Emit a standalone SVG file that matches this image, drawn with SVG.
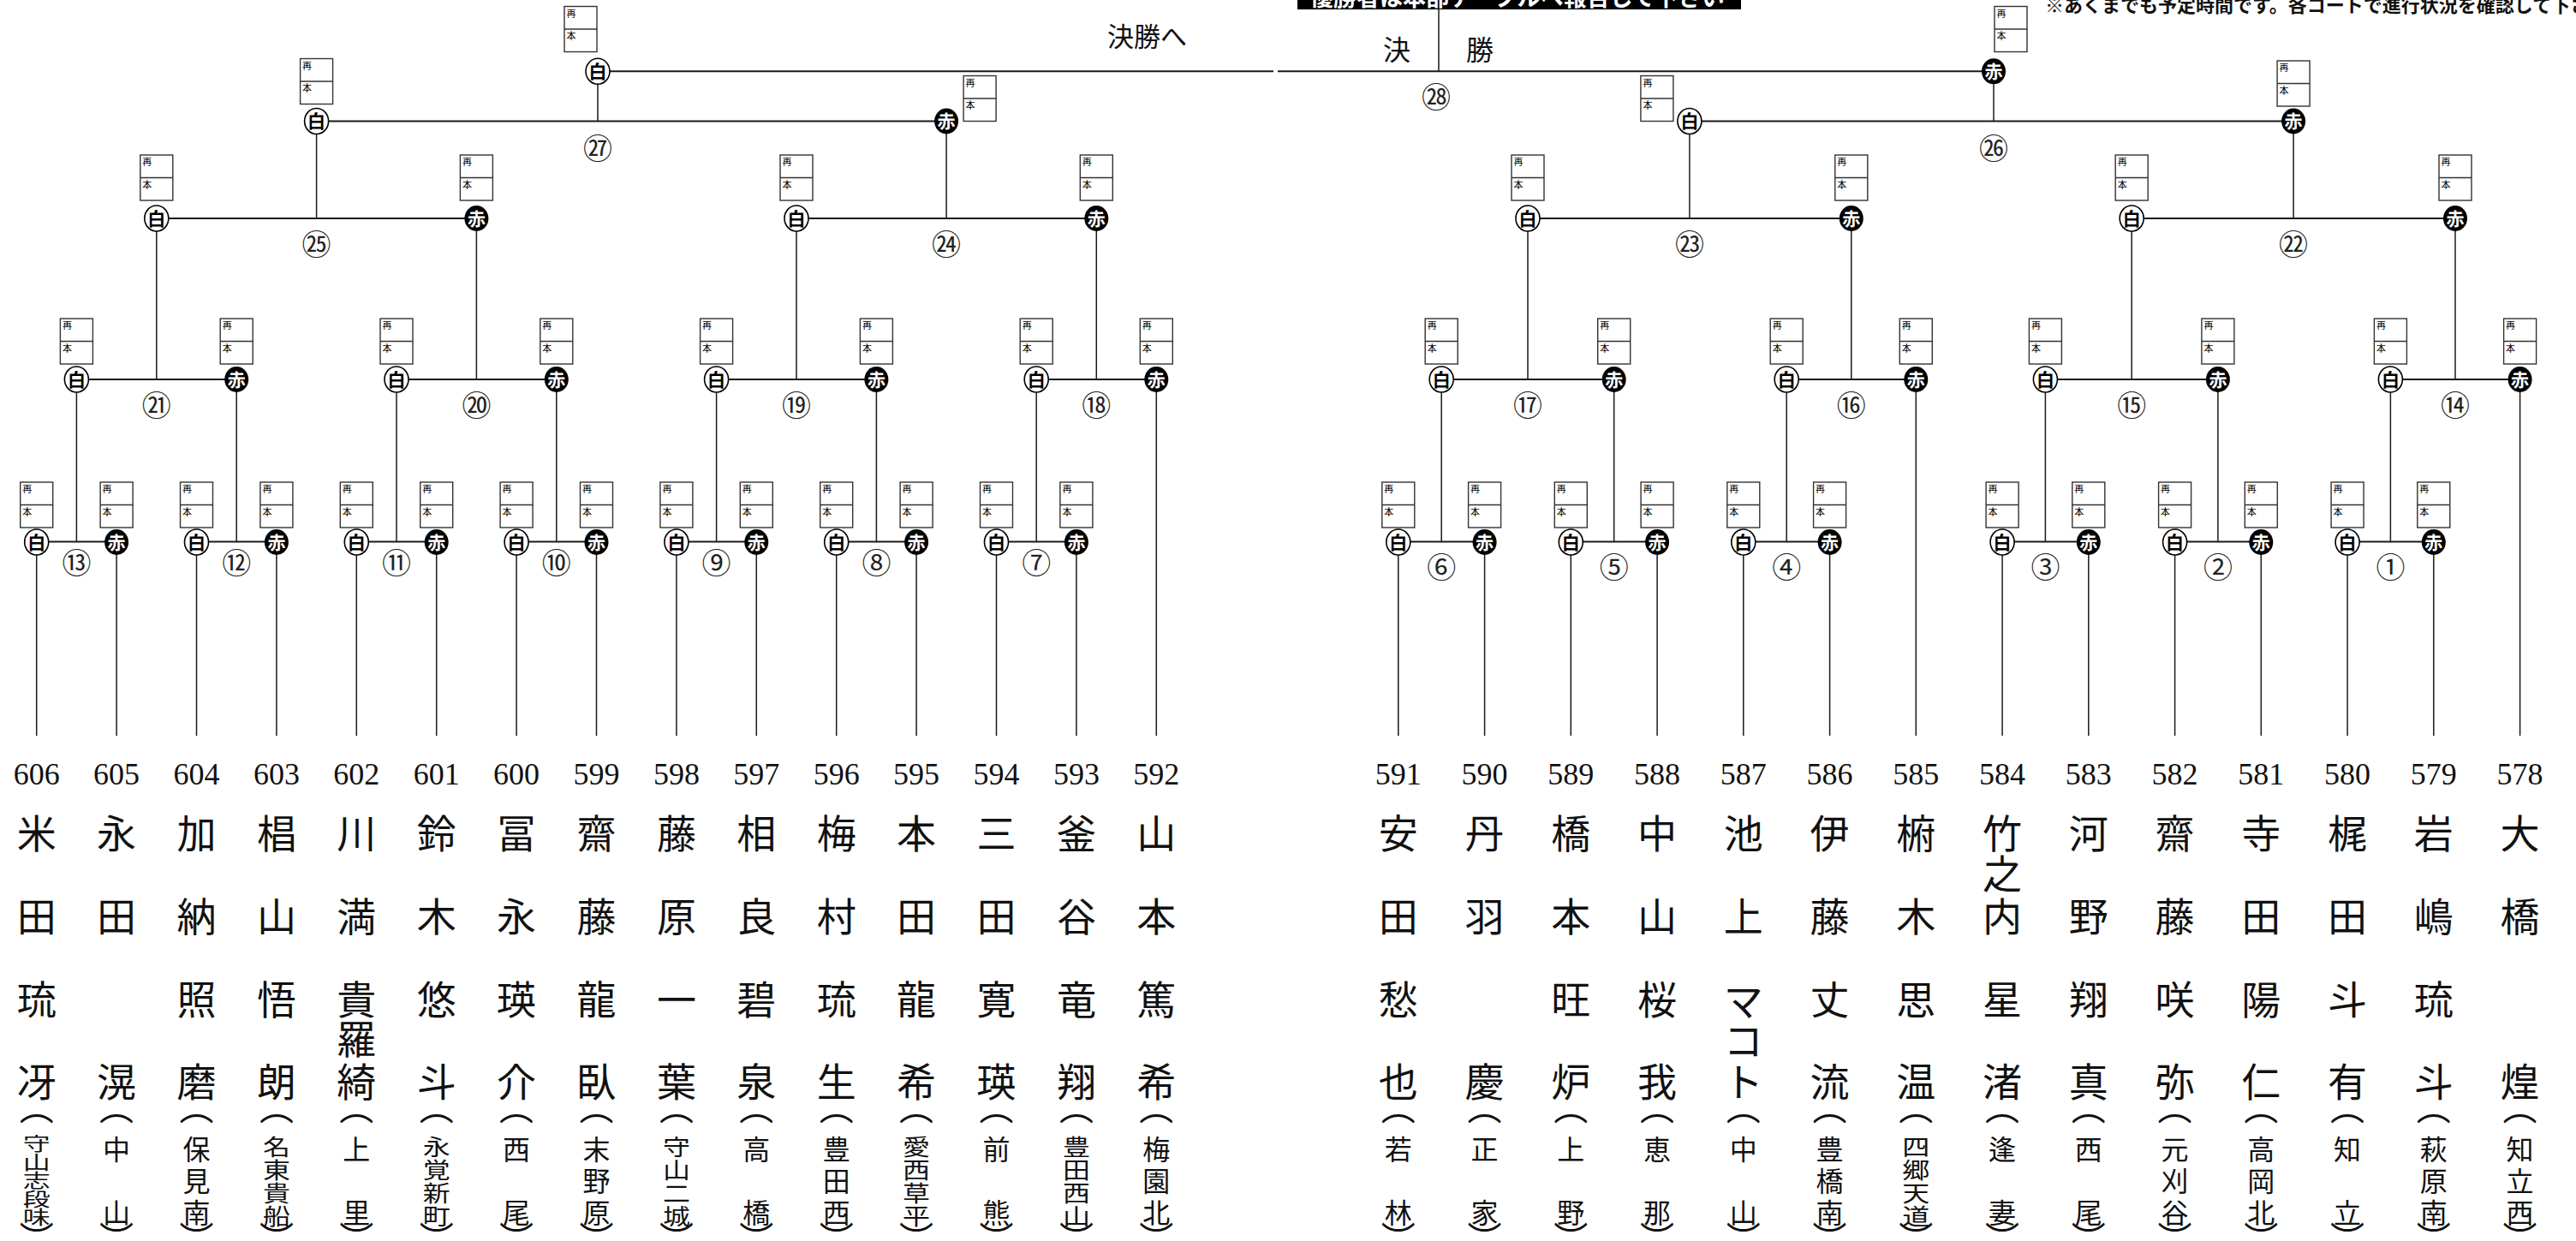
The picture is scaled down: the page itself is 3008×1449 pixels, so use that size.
<svg xmlns="http://www.w3.org/2000/svg" xmlns:xlink="http://www.w3.org/1999/xlink" width="3008" height="1449" viewBox="0 0 3008 1449">
<style>
.h{stroke:#1a1a1a;stroke-width:2;fill:none}
.v{stroke:#1a1a1a;stroke-width:1.5;fill:none}
.bx{fill:#fff;stroke:#333;stroke-width:1.4}
.bxl{stroke:#333;stroke-width:1.4}
.sm{font-family:"Noto Sans CJK JP",sans-serif;font-size:11px;fill:#000}
.mk{font-family:"Noto Sans CJK JP",sans-serif;font-size:21px;font-weight:bold;text-anchor:middle}
.cn{font-family:"Noto Sans CJK JP",sans-serif;font-size:34px;text-anchor:middle;fill:#222}
.num{font-family:"Liberation Serif",serif;font-size:36px;text-anchor:middle;fill:#111}
.nm{font-family:"Noto Sans CJK JP",sans-serif;font-size:46px;text-anchor:middle;fill:#111}
.sc{font-family:"Noto Sans CJK JP",sans-serif;font-size:32px;text-anchor:middle;fill:#111}
.pr{font-family:"Noto Sans CJK JP",sans-serif;font-size:40px;text-anchor:middle;fill:#111}
.tt{font-family:"Noto Sans CJK JP",sans-serif;fill:#111}
</style>
<defs>
<g id="bx"><rect width="38" height="53" class="bx"/><line x1="0" y1="26.5" x2="38" y2="26.5" class="bxl"/><text x="2.5" y="12" class="sm">再</text><text x="2.5" y="38.5" class="sm">本</text></g>
<g id="w"><ellipse rx="14" ry="15" fill="#fff" stroke="#000" stroke-width="1.6"/><text y="7.5" class="mk" fill="#000">白</text></g>
<g id="r"><ellipse rx="14" ry="15" fill="#000"/><text y="7.5" class="mk" fill="#fff">赤</text></g>
</defs>
<rect width="3008" height="1449" fill="#fff"/>

<g id="header">
<rect x="1515" y="0" width="518" height="11" fill="#000"/>
<text class="tt" x="1530" y="7" font-size="27" font-weight="bold" style="fill:#fff">優勝者は本部テーブルへ報告して下さい</text>
<text class="tt" x="2388" y="13.5" font-size="22" font-weight="bold">※あくまでも予定時間です。各コートで進行状況を確認して下さい</text>
<text class="tt" x="1293" y="54" font-size="31">決勝へ</text>
<text class="tt" x="1631" y="70" font-size="32" text-anchor="middle">決</text>
<text class="tt" x="1728" y="70" font-size="32" text-anchor="middle">勝</text>
</g>

<g id="connectors">
<path class="h" d="M42.7 632.5H136.1M229.5 632.5H322.9M416.3 632.5H509.7M603.1 632.5H696.5M789.9 632.5H883.3M976.7 632.5H1070.1M1163.5 632.5H1256.9M1632.8 632.5H1733.6M1834.3 632.5H1935.1M2035.8 632.5H2136.6M2338.1 632.5H2438.8M2539.6 632.5H2640.3M2741.1 632.5H2841.8
M89.4 443H276.2M463 443H649.8M836.6 443H1023.4M1210.2 443H1350.3M1683.2 443H1884.7M2086.2 443H2237.3M2388.4 443H2589.9M2791.4 443H2942.6
M182.8 255H556.4M930 255H1280.3M1784 255H2161.8M2489.2 255H2867
M369.6 141.5H1105.1M1972.9 141.5H2678.1
M698 83.3H1487M1492 83.3H2328"/>
<path class="v" d="M42.7 648V859M136.1 648V859M229.5 648V859M322.9 648V859M416.3 648V859M509.7 648V859M603.1 648V859M696.5 648V859M789.9 648V859M883.3 648V859M976.7 648V859M1070.1 648V859M1163.5 648V859M1256.9 648V859
M1632.8 648V859M1733.6 648V859M1834.3 648V859M1935.1 648V859M2035.8 648V859M2136.6 648V859M2338.1 648V859M2438.8 648V859M2539.6 648V859M2640.3 648V859M2741.1 648V859M2841.8 648V859
M1350.3 458V859M2237.3 458V859M2942.6 458V859
M89.4 443V632.5M276.2 443V632.5M463 443V632.5M649.8 443V632.5M836.6 443V632.5M1023.4 443V632.5M1210.2 443V632.5M1683.2 443V632.5M1884.7 443V632.5M2086.2 443V632.5M2388.4 443V632.5M2589.9 443V632.5M2791.4 443V632.5
M182.8 255V443M556.4 255V443M930 255V443M1280.3 255V443M1784 255V443M2161.8 255V443M2489.2 255V443M2867 255V443
M369.6 141.5V255M1105.1 141.5V255M1972.9 141.5V255M2678.1 141.5V255
M698 83.3V141.5M2328 83.3V141.5
M1680 10V83.3"/>
</g>

<g id="m13"><use href="#bx" x="23.7" y="563"/><use href="#bx" x="117.1" y="563"/><use href="#w" x="42.7" y="633"/><use href="#r" x="136.1" y="633"/><text class="cn" x="89.4" y="669.5">⑬</text></g>
<g id="m12"><use href="#bx" x="210.5" y="563"/><use href="#bx" x="303.9" y="563"/><use href="#w" x="229.5" y="633"/><use href="#r" x="322.9" y="633"/><text class="cn" x="276.2" y="669.5">⑫</text></g>
<g id="m11"><use href="#bx" x="397.3" y="563"/><use href="#bx" x="490.7" y="563"/><use href="#w" x="416.3" y="633"/><use href="#r" x="509.7" y="633"/><text class="cn" x="463" y="669.5">⑪</text></g>
<g id="m10"><use href="#bx" x="584.1" y="563"/><use href="#bx" x="677.5" y="563"/><use href="#w" x="603.1" y="633"/><use href="#r" x="696.5" y="633"/><text class="cn" x="649.8" y="669.5">⑩</text></g>
<g id="m9"><use href="#bx" x="770.9" y="563"/><use href="#bx" x="864.3" y="563"/><use href="#w" x="789.9" y="633"/><use href="#r" x="883.3" y="633"/><text class="cn" x="836.6" y="669.5">⑨</text></g>
<g id="m8"><use href="#bx" x="957.7" y="563"/><use href="#bx" x="1051.1" y="563"/><use href="#w" x="976.7" y="633"/><use href="#r" x="1070.1" y="633"/><text class="cn" x="1023.4" y="669.5">⑧</text></g>
<g id="m7"><use href="#bx" x="1144.5" y="563"/><use href="#bx" x="1237.9" y="563"/><use href="#w" x="1163.5" y="633"/><use href="#r" x="1256.9" y="633"/><text class="cn" x="1210.2" y="669.5">⑦</text></g>
<g id="m6"><use href="#bx" x="1613.8" y="563"/><use href="#bx" x="1714.6" y="563"/><use href="#w" x="1632.8" y="633"/><use href="#r" x="1733.6" y="633"/><text class="cn" x="1683.2" y="674.5">⑥</text></g>
<g id="m5"><use href="#bx" x="1815.3" y="563"/><use href="#bx" x="1916.1" y="563"/><use href="#w" x="1834.3" y="633"/><use href="#r" x="1935.1" y="633"/><text class="cn" x="1884.7" y="674.5">⑤</text></g>
<g id="m4"><use href="#bx" x="2016.8" y="563"/><use href="#bx" x="2117.6" y="563"/><use href="#w" x="2035.8" y="633"/><use href="#r" x="2136.6" y="633"/><text class="cn" x="2086.2" y="674.5">④</text></g>
<g id="m3"><use href="#bx" x="2319.1" y="563"/><use href="#bx" x="2419.8" y="563"/><use href="#w" x="2338.1" y="633"/><use href="#r" x="2438.8" y="633"/><text class="cn" x="2388.4" y="674.5">③</text></g>
<g id="m2"><use href="#bx" x="2520.6" y="563"/><use href="#bx" x="2621.3" y="563"/><use href="#w" x="2539.6" y="633"/><use href="#r" x="2640.3" y="633"/><text class="cn" x="2589.9" y="674.5">②</text></g>
<g id="m1"><use href="#bx" x="2722.1" y="563"/><use href="#bx" x="2822.8" y="563"/><use href="#w" x="2741.1" y="633"/><use href="#r" x="2841.8" y="633"/><text class="cn" x="2791.4" y="674.5">①</text></g>

<g id="m21"><use href="#bx" x="70.4" y="372"/><use href="#bx" x="257.2" y="372"/><use href="#w" x="89.4" y="443"/><use href="#r" x="276.2" y="443"/><text class="cn" x="182.8" y="485.5">㉑</text></g>
<g id="m20"><use href="#bx" x="444" y="372"/><use href="#bx" x="630.8" y="372"/><use href="#w" x="463" y="443"/><use href="#r" x="649.8" y="443"/><text class="cn" x="556.4" y="485.5">⑳</text></g>
<g id="m19"><use href="#bx" x="817.6" y="372"/><use href="#bx" x="1004.4" y="372"/><use href="#w" x="836.6" y="443"/><use href="#r" x="1023.4" y="443"/><text class="cn" x="930" y="485.5">⑲</text></g>
<g id="m18"><use href="#bx" x="1191.2" y="372"/><use href="#bx" x="1331.3" y="372"/><use href="#w" x="1210.2" y="443"/><use href="#r" x="1350.3" y="443"/><text class="cn" x="1280.3" y="485.5">⑱</text></g>
<g id="m17"><use href="#bx" x="1664.2" y="372"/><use href="#bx" x="1865.7" y="372"/><use href="#w" x="1683.2" y="443"/><use href="#r" x="1884.7" y="443"/><text class="cn" x="1784" y="485.5">⑰</text></g>
<g id="m16"><use href="#bx" x="2067.2" y="372"/><use href="#bx" x="2218.3" y="372"/><use href="#w" x="2086.2" y="443"/><use href="#r" x="2237.3" y="443"/><text class="cn" x="2161.8" y="485.5">⑯</text></g>
<g id="m15"><use href="#bx" x="2369.4" y="372"/><use href="#bx" x="2570.9" y="372"/><use href="#w" x="2388.4" y="443"/><use href="#r" x="2589.9" y="443"/><text class="cn" x="2489.2" y="485.5">⑮</text></g>
<g id="m14"><use href="#bx" x="2772.4" y="372"/><use href="#bx" x="2923.6" y="372"/><use href="#w" x="2791.4" y="443"/><use href="#r" x="2942.6" y="443"/><text class="cn" x="2867" y="485.5">⑭</text></g>

<g id="m25"><use href="#bx" x="163.8" y="181"/><use href="#bx" x="537.4" y="181"/><use href="#w" x="182.8" y="255"/><use href="#r" x="556.4" y="255"/><text class="cn" x="369.6" y="297.5">㉕</text></g>
<g id="m24"><use href="#bx" x="911" y="181"/><use href="#bx" x="1261.3" y="181"/><use href="#w" x="930" y="255"/><use href="#r" x="1280.3" y="255"/><text class="cn" x="1105.1" y="297.5">㉔</text></g>
<g id="m23"><use href="#bx" x="1765" y="181"/><use href="#bx" x="2142.8" y="181"/><use href="#w" x="1784" y="255"/><use href="#r" x="2161.8" y="255"/><text class="cn" x="1972.9" y="297.5">㉓</text></g>
<g id="m22"><use href="#bx" x="2470.2" y="181"/><use href="#bx" x="2848" y="181"/><use href="#w" x="2489.2" y="255"/><use href="#r" x="2867" y="255"/><text class="cn" x="2678.1" y="297.5">㉒</text></g>

<g id="m27"><use href="#bx" x="350.6" y="68.5"/><use href="#bx" x="1125.1" y="88.5"/><use href="#w" x="369.6" y="141.5"/><use href="#r" x="1105.1" y="141.5"/><text class="cn" x="698" y="185.5">㉗</text></g>
<g id="m26"><use href="#bx" x="1915.9" y="88.5"/><use href="#bx" x="2659.1" y="71"/><use href="#w" x="1972.9" y="141.5"/><use href="#r" x="2678.1" y="141.5"/><text class="cn" x="2328" y="185.5">㉖</text></g>
<g id="m28"><use href="#bx" x="659" y="7.5"/><use href="#bx" x="2329" y="7.5"/><use href="#w" x="698" y="83.3"/><use href="#r" x="2328" y="83.3"/><text class="cn" x="1677" y="125.5">㉘</text></g>

<g id="e606"><text class="num" x="42.7" y="916">606</text><text class="nm" x="42.7" y="989.5">米</text><text class="nm" x="42.7" y="1086.5">田</text><text class="nm" x="42.7" y="1183.5">琉</text><text class="nm" x="42.7" y="1279.5">冴</text><text class="pr" x="42.7" y="1308">︵</text><text class="sc" transform="translate(42.7,1343.3) scale(1,0.66)">守</text><text class="sc" transform="translate(42.7,1364.8) scale(1,0.66)">山</text><text class="sc" transform="translate(42.7,1386.3) scale(1,0.66)">志</text><text class="sc" transform="translate(42.7,1407.8) scale(1,0.66)">段</text><text class="sc" transform="translate(42.7,1429.3) scale(1,0.66)">味</text><text class="pr" x="42.7" y="1461">︶</text></g>
<g id="e605"><text class="num" x="136.1" y="916">605</text><text class="nm" x="136.1" y="989.5">永</text><text class="nm" x="136.1" y="1086.5">田</text><text class="nm" x="136.1" y="1279.5">滉</text><text class="pr" x="136.1" y="1308">︵</text><text class="sc" x="136.1" y="1354">中</text><text class="sc" x="136.1" y="1428">山</text><text class="pr" x="136.1" y="1461">︶</text></g>
<g id="e604"><text class="num" x="229.5" y="916">604</text><text class="nm" x="229.5" y="989.5">加</text><text class="nm" x="229.5" y="1086.5">納</text><text class="nm" x="229.5" y="1183.5">照</text><text class="nm" x="229.5" y="1279.5">磨</text><text class="pr" x="229.5" y="1308">︵</text><text class="sc" x="229.5" y="1354">保</text><text class="sc" x="229.5" y="1391">見</text><text class="sc" x="229.5" y="1428">南</text><text class="pr" x="229.5" y="1461">︶</text></g>
<g id="e603"><text class="num" x="322.9" y="916">603</text><text class="nm" x="322.9" y="989.5">椙</text><text class="nm" x="322.9" y="1086.5">山</text><text class="nm" x="322.9" y="1183.5">悟</text><text class="nm" x="322.9" y="1279.5">朗</text><text class="pr" x="322.9" y="1308">︵</text><text class="sc" transform="translate(322.9,1349.3) scale(1,0.83)">名</text><text class="sc" transform="translate(322.9,1376.1) scale(1,0.83)">東</text><text class="sc" transform="translate(322.9,1402.9) scale(1,0.83)">貴</text><text class="sc" transform="translate(322.9,1429.7) scale(1,0.83)">船</text><text class="pr" x="322.9" y="1461">︶</text></g>
<g id="e602"><text class="num" x="416.3" y="916">602</text><text class="nm" x="416.3" y="989.5">川</text><text class="nm" x="416.3" y="1086.5">満</text><text class="nm" x="416.3" y="1183.5">貴</text><text class="nm" x="416.3" y="1229.5">羅</text><text class="nm" x="416.3" y="1279.5">綺</text><text class="pr" x="416.3" y="1308">︵</text><text class="sc" x="416.3" y="1354">上</text><text class="sc" x="416.3" y="1428">里</text><text class="pr" x="416.3" y="1461">︶</text></g>
<g id="e601"><text class="num" x="509.7" y="916">601</text><text class="nm" x="509.7" y="989.5">鈴</text><text class="nm" x="509.7" y="1086.5">木</text><text class="nm" x="509.7" y="1183.5">悠</text><text class="nm" x="509.7" y="1279.5">斗</text><text class="pr" x="509.7" y="1308">︵</text><text class="sc" transform="translate(509.7,1349.3) scale(1,0.83)">永</text><text class="sc" transform="translate(509.7,1376.1) scale(1,0.83)">覚</text><text class="sc" transform="translate(509.7,1402.9) scale(1,0.83)">新</text><text class="sc" transform="translate(509.7,1429.7) scale(1,0.83)">町</text><text class="pr" x="509.7" y="1461">︶</text></g>
<g id="e600"><text class="num" x="603.1" y="916">600</text><text class="nm" x="603.1" y="989.5">冨</text><text class="nm" x="603.1" y="1086.5">永</text><text class="nm" x="603.1" y="1183.5">瑛</text><text class="nm" x="603.1" y="1279.5">介</text><text class="pr" x="603.1" y="1308">︵</text><text class="sc" x="603.1" y="1354">西</text><text class="sc" x="603.1" y="1428">尾</text><text class="pr" x="603.1" y="1461">︶</text></g>
<g id="e599"><text class="num" x="696.5" y="916">599</text><text class="nm" x="696.5" y="989.5">齋</text><text class="nm" x="696.5" y="1086.5">藤</text><text class="nm" x="696.5" y="1183.5">龍</text><text class="nm" x="696.5" y="1279.5">臥</text><text class="pr" x="696.5" y="1308">︵</text><text class="sc" x="696.5" y="1354">末</text><text class="sc" x="696.5" y="1391">野</text><text class="sc" x="696.5" y="1428">原</text><text class="pr" x="696.5" y="1461">︶</text></g>
<g id="e598"><text class="num" x="789.9" y="916">598</text><text class="nm" x="789.9" y="989.5">藤</text><text class="nm" x="789.9" y="1086.5">原</text><text class="nm" x="789.9" y="1183.5">一</text><text class="nm" x="789.9" y="1279.5">葉</text><text class="pr" x="789.9" y="1308">︵</text><text class="sc" transform="translate(789.9,1349.3) scale(1,0.83)">守</text><text class="sc" transform="translate(789.9,1376.1) scale(1,0.83)">山</text><text class="sc" transform="translate(789.9,1402.9) scale(1,0.83)">二</text><text class="sc" transform="translate(789.9,1429.7) scale(1,0.83)">城</text><text class="pr" x="789.9" y="1461">︶</text></g>
<g id="e597"><text class="num" x="883.3" y="916">597</text><text class="nm" x="883.3" y="989.5">相</text><text class="nm" x="883.3" y="1086.5">良</text><text class="nm" x="883.3" y="1183.5">碧</text><text class="nm" x="883.3" y="1279.5">泉</text><text class="pr" x="883.3" y="1308">︵</text><text class="sc" x="883.3" y="1354">高</text><text class="sc" x="883.3" y="1428">橋</text><text class="pr" x="883.3" y="1461">︶</text></g>
<g id="e596"><text class="num" x="976.7" y="916">596</text><text class="nm" x="976.7" y="989.5">梅</text><text class="nm" x="976.7" y="1086.5">村</text><text class="nm" x="976.7" y="1183.5">琉</text><text class="nm" x="976.7" y="1279.5">生</text><text class="pr" x="976.7" y="1308">︵</text><text class="sc" x="976.7" y="1354">豊</text><text class="sc" x="976.7" y="1391">田</text><text class="sc" x="976.7" y="1428">西</text><text class="pr" x="976.7" y="1461">︶</text></g>
<g id="e595"><text class="num" x="1070.1" y="916">595</text><text class="nm" x="1070.1" y="989.5">本</text><text class="nm" x="1070.1" y="1086.5">田</text><text class="nm" x="1070.1" y="1183.5">龍</text><text class="nm" x="1070.1" y="1279.5">希</text><text class="pr" x="1070.1" y="1308">︵</text><text class="sc" transform="translate(1070.1,1349.3) scale(1,0.83)">愛</text><text class="sc" transform="translate(1070.1,1376.1) scale(1,0.83)">西</text><text class="sc" transform="translate(1070.1,1402.9) scale(1,0.83)">草</text><text class="sc" transform="translate(1070.1,1429.7) scale(1,0.83)">平</text><text class="pr" x="1070.1" y="1461">︶</text></g>
<g id="e594"><text class="num" x="1163.5" y="916">594</text><text class="nm" x="1163.5" y="989.5">三</text><text class="nm" x="1163.5" y="1086.5">田</text><text class="nm" x="1163.5" y="1183.5">寛</text><text class="nm" x="1163.5" y="1279.5">瑛</text><text class="pr" x="1163.5" y="1308">︵</text><text class="sc" x="1163.5" y="1354">前</text><text class="sc" x="1163.5" y="1428">熊</text><text class="pr" x="1163.5" y="1461">︶</text></g>
<g id="e593"><text class="num" x="1256.9" y="916">593</text><text class="nm" x="1256.9" y="989.5">釜</text><text class="nm" x="1256.9" y="1086.5">谷</text><text class="nm" x="1256.9" y="1183.5">竜</text><text class="nm" x="1256.9" y="1279.5">翔</text><text class="pr" x="1256.9" y="1308">︵</text><text class="sc" transform="translate(1256.9,1349.3) scale(1,0.83)">豊</text><text class="sc" transform="translate(1256.9,1376.1) scale(1,0.83)">田</text><text class="sc" transform="translate(1256.9,1402.9) scale(1,0.83)">西</text><text class="sc" transform="translate(1256.9,1429.7) scale(1,0.83)">山</text><text class="pr" x="1256.9" y="1461">︶</text></g>
<g id="e592"><text class="num" x="1350.3" y="916">592</text><text class="nm" x="1350.3" y="989.5">山</text><text class="nm" x="1350.3" y="1086.5">本</text><text class="nm" x="1350.3" y="1183.5">篤</text><text class="nm" x="1350.3" y="1279.5">希</text><text class="pr" x="1350.3" y="1308">︵</text><text class="sc" x="1350.3" y="1354">梅</text><text class="sc" x="1350.3" y="1391">園</text><text class="sc" x="1350.3" y="1428">北</text><text class="pr" x="1350.3" y="1461">︶</text></g>

<g id="e591"><text class="num" x="1632.8" y="916">591</text><text class="nm" x="1632.8" y="989.5">安</text><text class="nm" x="1632.8" y="1086.5">田</text><text class="nm" x="1632.8" y="1183.5">愁</text><text class="nm" x="1632.8" y="1279.5">也</text><text class="pr" x="1632.8" y="1308">︵</text><text class="sc" x="1632.8" y="1354">若</text><text class="sc" x="1632.8" y="1428">林</text><text class="pr" x="1632.8" y="1461">︶</text></g>
<g id="e590"><text class="num" x="1733.6" y="916">590</text><text class="nm" x="1733.6" y="989.5">丹</text><text class="nm" x="1733.6" y="1086.5">羽</text><text class="nm" x="1733.6" y="1279.5">慶</text><text class="pr" x="1733.6" y="1308">︵</text><text class="sc" x="1733.6" y="1354">正</text><text class="sc" x="1733.6" y="1428">家</text><text class="pr" x="1733.6" y="1461">︶</text></g>
<g id="e589"><text class="num" x="1834.3" y="916">589</text><text class="nm" x="1834.3" y="989.5">橋</text><text class="nm" x="1834.3" y="1086.5">本</text><text class="nm" x="1834.3" y="1183.5">旺</text><text class="nm" x="1834.3" y="1279.5">炉</text><text class="pr" x="1834.3" y="1308">︵</text><text class="sc" x="1834.3" y="1354">上</text><text class="sc" x="1834.3" y="1428">野</text><text class="pr" x="1834.3" y="1461">︶</text></g>
<g id="e588"><text class="num" x="1935.1" y="916">588</text><text class="nm" x="1935.1" y="989.5">中</text><text class="nm" x="1935.1" y="1086.5">山</text><text class="nm" x="1935.1" y="1183.5">桜</text><text class="nm" x="1935.1" y="1279.5">我</text><text class="pr" x="1935.1" y="1308">︵</text><text class="sc" x="1935.1" y="1354">恵</text><text class="sc" x="1935.1" y="1428">那</text><text class="pr" x="1935.1" y="1461">︶</text></g>
<g id="e587"><text class="num" x="2035.8" y="916">587</text><text class="nm" x="2035.8" y="989.5">池</text><text class="nm" x="2035.8" y="1086.5">上</text><text class="nm" x="2035.8" y="1185.5">マ</text><text class="nm" x="2035.8" y="1231.5">コ</text><text class="nm" x="2035.8" y="1279.5">ト</text><text class="pr" x="2035.8" y="1308">︵</text><text class="sc" x="2035.8" y="1354">中</text><text class="sc" x="2035.8" y="1428">山</text><text class="pr" x="2035.8" y="1461">︶</text></g>
<g id="e586"><text class="num" x="2136.6" y="916">586</text><text class="nm" x="2136.6" y="989.5">伊</text><text class="nm" x="2136.6" y="1086.5">藤</text><text class="nm" x="2136.6" y="1183.5">丈</text><text class="nm" x="2136.6" y="1279.5">流</text><text class="pr" x="2136.6" y="1308">︵</text><text class="sc" x="2136.6" y="1354">豊</text><text class="sc" x="2136.6" y="1391">橋</text><text class="sc" x="2136.6" y="1428">南</text><text class="pr" x="2136.6" y="1461">︶</text></g>
<g id="e585"><text class="num" x="2237.3" y="916">585</text><text class="nm" x="2237.3" y="989.5">椨</text><text class="nm" x="2237.3" y="1086.5">木</text><text class="nm" x="2237.3" y="1183.5">思</text><text class="nm" x="2237.3" y="1279.5">温</text><text class="pr" x="2237.3" y="1308">︵</text><text class="sc" transform="translate(2237.3,1349.3) scale(1,0.83)">四</text><text class="sc" transform="translate(2237.3,1376.1) scale(1,0.83)">郷</text><text class="sc" transform="translate(2237.3,1402.9) scale(1,0.83)">天</text><text class="sc" transform="translate(2237.3,1429.7) scale(1,0.83)">道</text><text class="pr" x="2237.3" y="1461">︶</text></g>
<g id="e584"><text class="num" x="2338.1" y="916">584</text><text class="nm" x="2338.1" y="989.5">竹</text><text class="nm" x="2338.1" y="1036.5">之</text><text class="nm" x="2338.1" y="1086.5">内</text><text class="nm" x="2338.1" y="1183.5">星</text><text class="nm" x="2338.1" y="1279.5">渚</text><text class="pr" x="2338.1" y="1308">︵</text><text class="sc" x="2338.1" y="1354">逢</text><text class="sc" x="2338.1" y="1428">妻</text><text class="pr" x="2338.1" y="1461">︶</text></g>
<g id="e583"><text class="num" x="2438.8" y="916">583</text><text class="nm" x="2438.8" y="989.5">河</text><text class="nm" x="2438.8" y="1086.5">野</text><text class="nm" x="2438.8" y="1183.5">翔</text><text class="nm" x="2438.8" y="1279.5">真</text><text class="pr" x="2438.8" y="1308">︵</text><text class="sc" x="2438.8" y="1354">西</text><text class="sc" x="2438.8" y="1428">尾</text><text class="pr" x="2438.8" y="1461">︶</text></g>
<g id="e582"><text class="num" x="2539.6" y="916">582</text><text class="nm" x="2539.6" y="989.5">齋</text><text class="nm" x="2539.6" y="1086.5">藤</text><text class="nm" x="2539.6" y="1183.5">咲</text><text class="nm" x="2539.6" y="1279.5">弥</text><text class="pr" x="2539.6" y="1308">︵</text><text class="sc" x="2539.6" y="1354">元</text><text class="sc" x="2539.6" y="1391">刈</text><text class="sc" x="2539.6" y="1428">谷</text><text class="pr" x="2539.6" y="1461">︶</text></g>
<g id="e581"><text class="num" x="2640.3" y="916">581</text><text class="nm" x="2640.3" y="989.5">寺</text><text class="nm" x="2640.3" y="1086.5">田</text><text class="nm" x="2640.3" y="1183.5">陽</text><text class="nm" x="2640.3" y="1279.5">仁</text><text class="pr" x="2640.3" y="1308">︵</text><text class="sc" x="2640.3" y="1354">高</text><text class="sc" x="2640.3" y="1391">岡</text><text class="sc" x="2640.3" y="1428">北</text><text class="pr" x="2640.3" y="1461">︶</text></g>
<g id="e580"><text class="num" x="2741.1" y="916">580</text><text class="nm" x="2741.1" y="989.5">梶</text><text class="nm" x="2741.1" y="1086.5">田</text><text class="nm" x="2741.1" y="1183.5">斗</text><text class="nm" x="2741.1" y="1279.5">有</text><text class="pr" x="2741.1" y="1308">︵</text><text class="sc" x="2741.1" y="1354">知</text><text class="sc" x="2741.1" y="1428">立</text><text class="pr" x="2741.1" y="1461">︶</text></g>
<g id="e579"><text class="num" x="2841.8" y="916">579</text><text class="nm" x="2841.8" y="989.5">岩</text><text class="nm" x="2841.8" y="1086.5">嶋</text><text class="nm" x="2841.8" y="1183.5">琉</text><text class="nm" x="2841.8" y="1279.5">斗</text><text class="pr" x="2841.8" y="1308">︵</text><text class="sc" x="2841.8" y="1354">萩</text><text class="sc" x="2841.8" y="1391">原</text><text class="sc" x="2841.8" y="1428">南</text><text class="pr" x="2841.8" y="1461">︶</text></g>
<g id="e578"><text class="num" x="2942.6" y="916">578</text><text class="nm" x="2942.6" y="989.5">大</text><text class="nm" x="2942.6" y="1086.5">橋</text><text class="nm" x="2942.6" y="1279.5">煌</text><text class="pr" x="2942.6" y="1308">︵</text><text class="sc" x="2942.6" y="1354">知</text><text class="sc" x="2942.6" y="1391">立</text><text class="sc" x="2942.6" y="1428">西</text><text class="pr" x="2942.6" y="1461">︶</text></g>
</svg>
